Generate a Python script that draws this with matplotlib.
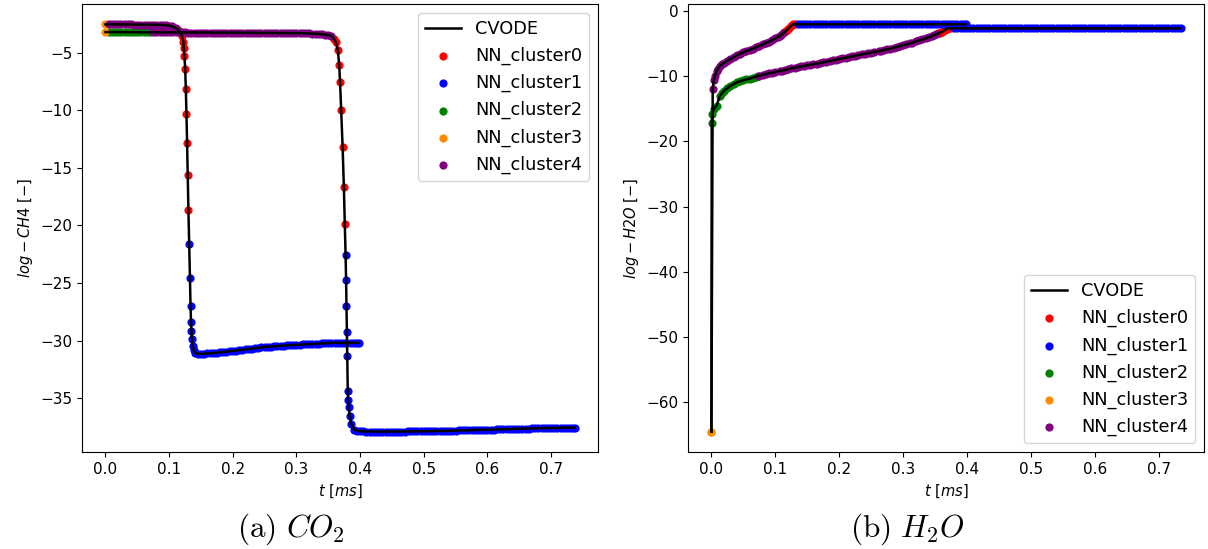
import matplotlib
matplotlib.use("Agg")
import matplotlib.pyplot as plt
import numpy as np

cluster_names = ['NN_cluster0', 'NN_cluster1', 'NN_cluster2', 'NN_cluster3', 'NN_cluster4']
cluster_colors = ['red', 'blue', 'green', 'darkorange', 'purple']

# ---- left panel: log CH4, two trajectories ----
ch4_a_t = [0.000, 0.005, 0.010, 0.015, 0.020, 0.025, 0.030, 0.035, 0.040, 0.045,
           0.050, 0.055, 0.060, 0.065, 0.070, 0.075, 0.080, 0.085, 0.090, 0.095,
           0.100, 0.105, 0.110,
           0.114, 0.117, 0.120, 0.1225, 0.1228, 0.124, 0.1252, 0.1262, 0.1272, 0.1282,
           0.1292, 0.1303,
           0.1315, 0.1327, 0.1336, 0.1344, 0.1350, 0.1358, 0.1368, 0.1385, 0.141, 0.145,
           0.150, 0.155, 0.160, 0.165, 0.170, 0.175, 0.180, 0.185, 0.190, 0.195,
           0.200, 0.205, 0.210, 0.215, 0.220, 0.225, 0.230, 0.235, 0.240, 0.245,
           0.250, 0.255, 0.260, 0.265, 0.270, 0.275, 0.280, 0.285, 0.290, 0.295,
           0.300, 0.305, 0.310, 0.315, 0.320, 0.325, 0.330, 0.335, 0.340, 0.345,
           0.350, 0.355, 0.360, 0.365, 0.370, 0.375, 0.380, 0.385, 0.390, 0.395,
           0.398]
ch4_a_v = [-2.55, -2.55, -2.55, -2.55, -2.55, -2.56, -2.56, -2.56, -2.56, -2.57,
           -2.57, -2.57, -2.57, -2.58, -2.58, -2.58, -2.59, -2.59, -2.60, -2.62,
           -2.66, -2.73, -2.86,
           -3.00, -3.20, -3.55, -4.07, -4.59, -5.29, -6.41, -8.14, -10.30, -12.81,
           -15.67, -18.70,
           -21.64, -24.58, -27.00, -28.38, -29.16, -29.85, -30.46, -30.85, -31.05, -31.15,
           -31.15, -31.14, -31.12, -31.10, -31.08, -31.05, -31.02, -31.00, -30.97, -30.93,
           -30.90, -30.87, -30.83, -30.80, -30.77, -30.73, -30.70, -30.66, -30.63, -30.59,
           -30.56, -30.54, -30.52, -30.50, -30.48, -30.46, -30.44, -30.42, -30.40, -30.39,
           -30.37, -30.36, -30.34, -30.33, -30.31, -30.30, -30.28, -30.27, -30.25, -30.24,
           -30.22, -30.21, -30.20, -30.20, -30.20, -30.20, -30.20, -30.20, -30.20, -30.20,
           -30.20]
ch4_a_c = [3] + [4] * 22 + [0] * 12 + [1] * 61

ch4_b_t = [0.000, 0.005, 0.010, 0.015, 0.020, 0.025, 0.030, 0.035, 0.040, 0.045,
           0.050, 0.055, 0.060, 0.065, 0.070, 0.075, 0.080, 0.085, 0.090, 0.095,
           0.100, 0.105, 0.110, 0.115, 0.120, 0.125, 0.130, 0.135, 0.140, 0.145,
           0.150, 0.155, 0.160, 0.165, 0.170, 0.175, 0.180, 0.185, 0.190, 0.195,
           0.200, 0.205, 0.210, 0.215, 0.220, 0.225, 0.230, 0.235, 0.240, 0.245,
           0.250, 0.255, 0.260, 0.265, 0.270, 0.275, 0.280, 0.285, 0.290, 0.295,
           0.300, 0.305, 0.310, 0.315, 0.320, 0.325, 0.330, 0.335, 0.340, 0.345,
           0.350, 0.355,
           0.359, 0.3615, 0.3650, 0.3672, 0.3685, 0.3702, 0.3725, 0.3745, 0.3760,
           0.3772, 0.3780, 0.3786, 0.3792, 0.3798, 0.3806, 0.3812, 0.3820, 0.3835, 0.3860,
           0.3905,
           0.395, 0.400, 0.405, 0.410, 0.415, 0.420, 0.425, 0.430, 0.435, 0.440,
           0.445, 0.450, 0.455, 0.460, 0.465, 0.470, 0.475, 0.480, 0.485, 0.490,
           0.495, 0.500, 0.505, 0.510, 0.515, 0.520, 0.525, 0.530, 0.535, 0.540,
           0.545, 0.550, 0.555, 0.560, 0.565, 0.570, 0.575, 0.580, 0.585, 0.590,
           0.595, 0.600, 0.605, 0.610, 0.615, 0.620, 0.625, 0.630, 0.635, 0.640,
           0.645, 0.650, 0.655, 0.660, 0.665, 0.670, 0.675, 0.680, 0.685, 0.690,
           0.695, 0.700, 0.705, 0.710, 0.715, 0.720, 0.725, 0.730, 0.735,
           0.737]
ch4_b_v = [-3.22, -3.22, -3.22, -3.22, -3.22, -3.23, -3.23, -3.23, -3.23, -3.23,
           -3.24, -3.24, -3.24, -3.24, -3.24, -3.24, -3.24, -3.24, -3.25, -3.25,
           -3.25, -3.25, -3.25, -3.25, -3.25, -3.25, -3.26, -3.26, -3.26, -3.26,
           -3.26, -3.26, -3.26, -3.26, -3.27, -3.27, -3.27, -3.27, -3.27, -3.27,
           -3.27, -3.27, -3.28, -3.28, -3.28, -3.28, -3.28, -3.28, -3.29, -3.29,
           -3.29, -3.29, -3.29, -3.29, -3.30, -3.30, -3.30, -3.30, -3.31, -3.31,
           -3.31, -3.31, -3.32, -3.33, -3.34, -3.35, -3.36, -3.38, -3.40, -3.43,
           -3.48, -3.56,
           -3.80, -4.05, -4.77, -6.12, -7.56, -9.96, -13.16, -16.70, -19.90,
           -22.60, -24.75, -27.00, -29.25, -31.33, -34.35, -35.13, -35.74, -36.52, -37.21,
           -37.73,
           -37.83, -37.88, -37.89, -37.90, -37.90, -37.90, -37.91, -37.91, -37.91, -37.91,
           -37.91, -37.90, -37.90, -37.90, -37.90, -37.90, -37.89, -37.89, -37.89, -37.89,
           -37.88, -37.88, -37.87, -37.87, -37.86, -37.86, -37.85, -37.85, -37.84, -37.83,
           -37.83, -37.82, -37.81, -37.80, -37.80, -37.79, -37.78, -37.77, -37.77, -37.76,
           -37.75, -37.74, -37.74, -37.73, -37.72, -37.71, -37.71, -37.70, -37.69, -37.68,
           -37.67, -37.66, -37.65, -37.64, -37.64, -37.63, -37.62, -37.61, -37.61, -37.60,
           -37.60, -37.59, -37.59, -37.58, -37.58, -37.57, -37.57, -37.56, -37.56,
           -37.56]
ch4_b_c = [3] + [2] * 14 + [4] * 57 + [0] * 9 + [1] * 81

# ---- right panel: log H2O, same two trajectories ----
h2o_a_t = [0.000,
           0.002, 0.004, 0.0055, 0.008, 0.010, 0.0132, 0.0165, 0.020, 0.025, 0.0288,
           0.035, 0.040, 0.045, 0.050, 0.0548, 0.060, 0.065, 0.070, 0.075, 0.0807,
           0.085, 0.090, 0.095, 0.100, 0.1035, 0.1067, 0.109, 0.112,
           0.114, 0.116, 0.118, 0.120, 0.122, 0.124, 0.126, 0.1274, 0.1303,
           0.135, 0.140, 0.145, 0.150, 0.155, 0.160, 0.165, 0.170, 0.175, 0.180,
           0.185, 0.190, 0.195, 0.200, 0.205, 0.210, 0.215, 0.220, 0.225, 0.230,
           0.235, 0.240, 0.245, 0.250, 0.255, 0.260, 0.265, 0.270, 0.275, 0.280,
           0.285, 0.290, 0.295, 0.300, 0.305, 0.310, 0.315, 0.320, 0.325, 0.330,
           0.335, 0.340, 0.345, 0.350, 0.355, 0.360, 0.365, 0.370, 0.375, 0.380,
           0.385, 0.390, 0.395, 0.398]
h2o_a_v = [-64.5,
           -12.0, -10.5, -9.95, -9.2, -8.9, -8.42, -8.15, -7.9, -7.6, -7.4,
           -7.05, -6.8, -6.55, -6.33, -6.13, -5.95, -5.75, -5.55, -5.33, -5.1,
           -4.9, -4.7, -4.45, -4.2, -4.0, -3.83, -3.65, -3.4,
           -3.25, -3.1, -2.9, -2.7, -2.52, -2.35, -2.15, -2.04, -2.04,
           -2.04, -2.04, -2.04, -2.04, -2.04, -2.04, -2.04, -2.04, -2.04, -2.04,
           -2.04, -2.04, -2.04, -2.04, -2.04, -2.04, -2.04, -2.04, -2.04, -2.04,
           -2.04, -2.04, -2.04, -2.04, -2.04, -2.04, -2.04, -2.04, -2.04, -2.04,
           -2.04, -2.04, -2.04, -2.04, -2.04, -2.04, -2.04, -2.04, -2.04, -2.04,
           -2.04, -2.04, -2.04, -2.04, -2.04, -2.04, -2.04, -2.04, -2.04, -2.04,
           -2.04, -2.04, -2.04, -2.04]
h2o_a_c = [3] + [4] * 28 + [0] * 9 + [1] * 54

h2o_b_t = [0.000,
           0.0005, 0.001, 0.004, 0.0081, 0.0132, 0.0165, 0.020, 0.025, 0.0288, 0.035,
           0.040, 0.045, 0.050, 0.0548, 0.060, 0.065, 0.070, 0.073,
           0.075, 0.080, 0.085, 0.090, 0.095, 0.100, 0.1067, 0.110, 0.115, 0.120,
           0.125, 0.130, 0.135, 0.140, 0.145, 0.150, 0.155, 0.1586, 0.165, 0.170,
           0.175, 0.180, 0.185, 0.190, 0.195, 0.200, 0.205, 0.2106, 0.215, 0.220,
           0.225, 0.230, 0.235, 0.240, 0.245, 0.250, 0.255, 0.2625, 0.265, 0.270,
           0.275, 0.280, 0.285, 0.290, 0.295, 0.300, 0.305, 0.310, 0.3143, 0.320,
           0.325, 0.330, 0.335, 0.340, 0.3455, 0.349, 0.352,
           0.355, 0.357, 0.359, 0.361, 0.363, 0.365, 0.367, 0.3689, 0.372, 0.375,
           0.380, 0.385, 0.390, 0.395, 0.400, 0.405, 0.410, 0.415, 0.420, 0.425,
           0.430, 0.435, 0.440, 0.445, 0.450, 0.455, 0.460, 0.465, 0.470, 0.475,
           0.480, 0.485, 0.490, 0.495, 0.500, 0.505, 0.510, 0.515, 0.520, 0.525,
           0.530, 0.535, 0.540, 0.545, 0.550, 0.555, 0.560, 0.565, 0.570, 0.575,
           0.580, 0.585, 0.590, 0.595, 0.600, 0.605, 0.610, 0.615, 0.620, 0.625,
           0.630, 0.635, 0.640, 0.645, 0.650, 0.655, 0.660, 0.665, 0.670, 0.675,
           0.680, 0.685, 0.690, 0.695, 0.700, 0.705, 0.710, 0.715, 0.720, 0.725,
           0.730, 0.734]
h2o_b_v = [-64.5,
           -17.2, -15.8, -15.0, -14.5, -13.0, -12.6, -12.2, -11.8, -11.5, -11.2,
           -10.9, -10.75, -10.6, -10.46, -10.35, -10.2, -10.05, -9.95,
           -9.9, -9.8, -9.67, -9.55, -9.45, -9.33, -9.19, -9.12, -9.0, -8.9,
           -8.8, -8.7, -8.6, -8.5, -8.42, -8.33, -8.23, -8.16, -8.05, -7.95,
           -7.85, -7.75, -7.65, -7.55, -7.45, -7.35, -7.25, -7.14, -7.05, -6.95,
           -6.85, -6.75, -6.65, -6.55, -6.46, -6.37, -6.27, -6.13, -6.07, -5.97,
           -5.86, -5.75, -5.63, -5.5, -5.38, -5.25, -5.12, -4.97, -4.84, -4.66,
           -4.5, -4.35, -4.2, -4.02, -3.83, -3.68, -3.55,
           -3.42, -3.3, -3.22, -3.16, -3.02, -2.9, -2.8, -2.7, -2.65, -2.65,
           -2.65, -2.65, -2.65, -2.65, -2.65, -2.65, -2.65, -2.65, -2.65, -2.65,
           -2.65, -2.65, -2.65, -2.65, -2.65, -2.65, -2.65, -2.65, -2.65, -2.65,
           -2.65, -2.65, -2.65, -2.65, -2.65, -2.65, -2.65, -2.65, -2.65, -2.65,
           -2.65, -2.65, -2.65, -2.65, -2.65, -2.65, -2.65, -2.65, -2.65, -2.65,
           -2.65, -2.65, -2.65, -2.65, -2.65, -2.65, -2.65, -2.65, -2.65, -2.65,
           -2.65, -2.65, -2.65, -2.65, -2.65, -2.65, -2.65, -2.65, -2.65, -2.65,
           -2.65, -2.65, -2.65, -2.65, -2.65, -2.65, -2.65, -2.65, -2.65, -2.65,
           -2.65, -2.65]
h2o_b_c = [3] + [2] * 18 + [4] * 57 + [0] * 10 + [1] * 72

for t, v, c in [(ch4_a_t, ch4_a_v, ch4_a_c), (ch4_b_t, ch4_b_v, ch4_b_c),
                (h2o_a_t, h2o_a_v, h2o_a_c), (h2o_b_t, h2o_b_v, h2o_b_c)]:
    assert len(t) == len(v) == len(c), (len(t), len(v), len(c))


def draw_panel(ax, runs, ylabel, legend_loc):
    # CVODE reference line first so it comes first in the legend
    for i, (t, v, c) in enumerate(runs):
        ax.plot(t, v, color='black', lw=1.8, zorder=3,
                label='CVODE' if i == 0 else None)
    t_all = np.concatenate([np.asarray(r[0]) for r in runs])
    v_all = np.concatenate([np.asarray(r[1]) for r in runs])
    c_all = np.concatenate([np.asarray(r[2]) for r in runs])
    for k, name in enumerate(cluster_names):
        m = c_all == k
        ax.scatter(t_all[m], v_all[m], s=24, color=cluster_colors[k], label=name, zorder=2)
    ax.set_xlabel(r'$t\ [ms]$', fontsize=10.5)
    ax.set_ylabel(ylabel, fontsize=10.5)
    ax.tick_params(labelsize=11)
    ax.legend(loc=legend_loc, fontsize=12.8)


fig = plt.figure(figsize=(12.08, 5.49), dpi=100)
ax1 = fig.add_axes([0.0679, 0.1767, 0.4272, 0.816])
ax2 = fig.add_axes([0.5695, 0.1767, 0.4272, 0.816])

draw_panel(ax1, [(ch4_a_t, ch4_a_v, ch4_a_c), (ch4_b_t, ch4_b_v, ch4_b_c)],
           r'$log-CH4\ [-]$', 'upper right')
draw_panel(ax2, [(h2o_a_t, h2o_a_v, h2o_a_c), (h2o_b_t, h2o_b_v, h2o_b_c)],
           r'$log-H2O\ [-]$', 'lower right')

fig.text(291 / 1208, 1 - 529 / 549, r'$\mathrm{(a)}\ CO_2$', math_fontfamily='cm',
         fontsize=22.5, ha='center', va='center')
fig.text(907 / 1208, 1 - 529 / 549, r'$\mathrm{(b)}\ H_2O$', math_fontfamily='cm',
         fontsize=22.5, ha='center', va='center')

fig.savefig('out.png', dpi=100)
